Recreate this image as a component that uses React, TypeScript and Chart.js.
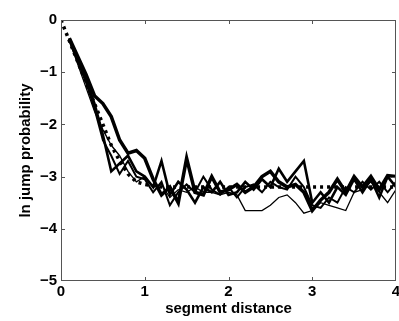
import React, { useEffect, useRef } from "react";
import { Chart, registerables } from "chart.js";

Chart.register(...registerables);

const distances = [
  0.1, 0.2, 0.3, 0.4, 0.5, 0.6, 0.7, 0.8, 0.9, 1.0,
  1.1, 1.2, 1.3, 1.4, 1.5, 1.6, 1.7, 1.8, 1.9, 2.0,
  2.1, 2.2, 2.3, 2.4, 2.5, 2.6, 2.7, 2.8, 2.9, 3.0,
  3.1, 3.2, 3.3, 3.4, 3.5, 3.6, 3.7, 3.8, 3.9, 4.0,
];

const series1 = [
  -0.35, -0.7, -1.05, -1.45, -1.6, -1.85, -2.3, -2.55, -2.5, -2.65,
  -3.05, -3.35, -3.2, -3.5, -2.65, -3.3, -3.35, -3.0, -3.3, -3.25,
  -3.15, -3.3, -3.2, -3.0, -2.9, -3.1, -3.2, -3.15, -3.3, -3.65,
  -3.45, -3.3, -3.05, -3.3, -3.0, -3.2, -3.0, -3.25, -2.98, -3.0,
];
const series2 = [
  -0.35, -0.75, -1.15, -1.6, -2.2, -2.9, -2.75, -2.6, -2.9, -3.0,
  -3.2, -2.7, -3.35, -3.1, -3.25, -3.5, -3.2, -3.3, -3.1, -3.35,
  -3.3, -3.1, -3.25, -3.05, -3.2, -2.85, -3.1, -2.9, -2.7, -3.5,
  -3.3, -3.5, -3.2, -3.35, -3.05, -3.3, -3.05, -3.4, -3.0, -3.2,
];
const series3 = [
  -0.4, -0.8, -1.2, -1.7, -2.3, -2.6, -2.95, -2.7, -3.0, -3.05,
  -3.3, -3.1, -3.55, -3.3, -3.15, -3.3, -3.0, -3.25, -3.35, -3.2,
  -3.4, -3.2, -3.15, -3.3, -3.1, -3.2, -3.25, -3.0, -3.2, -3.55,
  -3.6, -3.4, -3.5, -3.2, -3.3, -3.1, -3.25, -3.1, -3.3, -3.1,
];
const series4 = [
  -0.4, -0.85, -1.3, -1.75, -2.1, -2.4, -2.6, -2.9, -3.1, -3.0,
  -3.2, -3.15, -3.4, -3.25, -3.3, -3.2, -3.3, -3.3, -3.35, -3.3,
  -3.35, -3.65, -3.65, -3.65, -3.55, -3.4, -3.35, -3.5, -3.7, -3.65,
  -3.5, -3.55, -3.6, -3.65, -3.3, -3.25, -3.1, -3.3, -3.5, -3.25,
];

const fitX = [0, 0.1, 0.2, 0.3, 0.4, 0.5, 0.6, 0.7, 0.8, 0.9, 1.0, 1.2, 1.5, 2.0, 3.0, 4.0];
const fitY = [0, -0.4, -0.8, -1.2, -1.6, -2.0, -2.4, -2.7, -2.95, -3.1, -3.15, -3.2, -3.2, -3.2, -3.2, -3.2];

const xTicks = [0, 1, 2, 3, 4];
const yTicks = [0, -1, -2, -3, -4, -5];

const xTitle = "segment distance";
const yTitle = "ln jump probability";

const toPoints = (xs: number[], ys: number[]) => xs.map((x, i) => ({ x, y: ys[i] }));

const framePlugin = {
  id: "frame",
  afterDatasetsDraw(chart: any) {
    const { ctx, chartArea } = chart;
    const { left, right, top, bottom } = chartArea;
    const xs = chart.scales.x;
    const ys = chart.scales.y;
    ctx.save();
    ctx.strokeStyle = "#555";
    ctx.lineWidth = 1;
    ctx.strokeRect(left + 0.5, top + 0.5, right - left - 1, bottom - top - 1);
    const tl = 4;
    ctx.beginPath();
    xTicks.slice(1, -1).forEach((v) => {
      const px = Math.round(xs.getPixelForValue(v)) + 0.5;
      ctx.moveTo(px, bottom);
      ctx.lineTo(px, bottom - tl);
      ctx.moveTo(px, top);
      ctx.lineTo(px, top + tl);
    });
    yTicks.slice(1, -1).forEach((v) => {
      const py = Math.round(ys.getPixelForValue(v)) + 0.5;
      ctx.moveTo(left, py);
      ctx.lineTo(left + tl, py);
      ctx.moveTo(right, py);
      ctx.lineTo(right - tl, py);
    });
    ctx.stroke();
    ctx.restore();
  },
};

export default function App() {
  const ref = useRef<HTMLCanvasElement>(null);
  useEffect(() => {
    if (!ref.current) return;
    const font = { family: "'Liberation Sans', Arial, sans-serif", size: 15, weight: "bold" as const };
    const chart = new Chart(ref.current, {
      type: "line",
      data: {
        datasets: [
          {
            data: toPoints(fitX, fitY),
            borderColor: "#000",
            borderWidth: 3.5,
            borderDash: [3, 4],
            pointRadius: 0,
            tension: 0,
          },
          { data: toPoints(distances, series1), borderColor: "#000", borderWidth: 3.5, pointRadius: 0, tension: 0 },
          { data: toPoints(distances, series2), borderColor: "#000", borderWidth: 2.6, pointRadius: 0, tension: 0 },
          { data: toPoints(distances, series3), borderColor: "#000", borderWidth: 2, pointRadius: 0, tension: 0 },
          { data: toPoints(distances, series4), borderColor: "#000", borderWidth: 1.3, pointRadius: 0, tension: 0 },
        ],
      },
      options: {
        responsive: false,
        animation: false,
        layout: { padding: { top: 20, right: 3, left: 0, bottom: 0 } },
        plugins: { legend: { display: false }, tooltip: { enabled: false } },
        scales: {
          x: {
            type: "linear",
            min: 0,
            max: 4,
            grid: { display: false, drawTicks: false },
            border: { display: false },
            ticks: { stepSize: 1, color: "#000", font, padding: 2, maxRotation: 0 },
            title: { display: true, text: xTitle, color: "#000", font, padding: { top: 0, bottom: 3 } },
            afterFit(scale: any) {
              scale.height = 40;
              scale.paddingLeft = 0;
              scale.paddingRight = 0;
            },
          },
          y: {
            type: "linear",
            min: -5,
            max: 0,
            grid: { display: false, drawTicks: false },
            border: { display: false },
            ticks: {
              stepSize: 1,
              color: "#000",
              font,
              padding: 4,
              callback: (v: any) => (Number(v) < 0 ? "\u2212" + Math.abs(Number(v)) : String(v)),
            },
            title: { display: true, text: yTitle, color: "#000", font, padding: { top: 17, bottom: 0 } },
            afterFit(scale: any) {
              scale.width = 61;
              scale.paddingTop = 0;
              scale.paddingBottom = 0;
            },
          },
        },
      },
      plugins: [framePlugin],
    });
    return () => chart.destroy();
  }, []);
  return (
    <div style={{ position: "fixed", left: 0, top: 0, width: 399, height: 321, background: "#fff" }}>
      <canvas ref={ref} width={399} height={321} />
    </div>
  );
}
